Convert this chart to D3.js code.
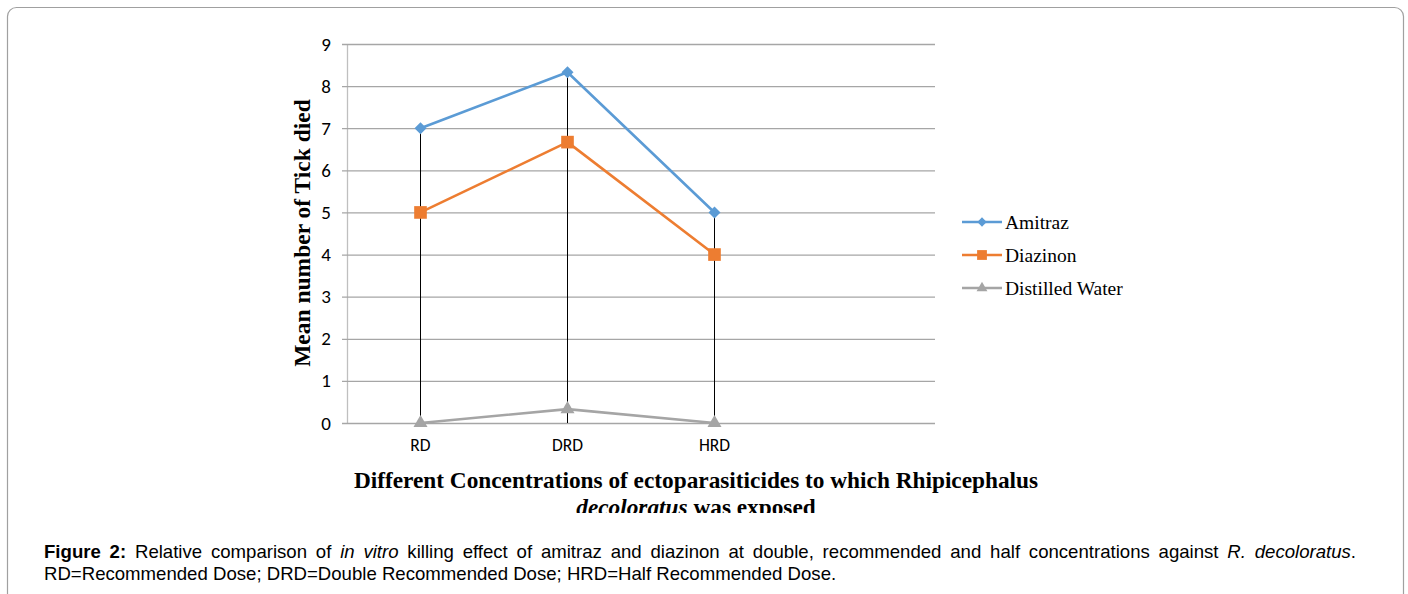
<!DOCTYPE html>
<html>
<head>
<meta charset="utf-8">
<script src="https://cdn.jsdelivr.net/npm/d3@7"></script>
<style>
  html, body { margin: 0; padding: 0; background: #fff; }
  svg { display: block; }
</style>
</head>
<body>
<svg id="fig" width="1408" height="594"></svg>
<script>
// Dose categories (a fourth, empty slot keeps the plot's spacing)
const categories = ["RD", "DRD", "HRD", ""];
const amitraz = [7, 8.33, 5];
const diazinon = [5, 6.67, 4];
const distilledWater = [0, 0.33, 0];
const yTicks = [0, 1, 2, 3, 4, 5, 6, 7, 8, 9];
const seriesNames = ["Amitraz", "Diazinon", "Distilled Water"];

const series = [
  { name: seriesNames[0], values: amitraz, color: "#5b9bd5", symbol: d3.symbolSquare, size: 72, rotate: 45 },
  { name: seriesNames[1], values: diazinon, color: "#ed7d31", symbol: d3.symbolSquare, size: 160, rotate: 0 },
  { name: seriesNames[2], values: distilledWater, color: "#a5a5a5", symbol: d3.symbolTriangle, size: 85, rotate: 0 }
];

const svg = d3.select("#fig");

// Outer figure frame
svg.append("rect")
  .attr("x", 7.5).attr("y", 7.5)
  .attr("width", 1396).attr("height", 620)
  .attr("rx", 9).attr("ry", 9)
  .attr("fill", "none").attr("stroke", "#a0a0a0").attr("stroke-width", 1.2);

const plot = { left: 347, right: 935, top: 44, bottom: 423 };

const x = d3.scaleBand().domain(categories).range([plot.left, plot.right]);
const y = d3.scaleLinear().domain([0, 9]).range([plot.bottom, plot.top]);
const cx = c => x(c) + x.bandwidth() / 2;

const tickFont = "Carlito, 'Open Sans', 'Liberation Sans', sans-serif";

// Horizontal gridlines with short tick stubs on the left
const yAxis = d3.axisLeft(y).tickValues(yTicks)
  .tickSize(-(plot.right - plot.left)).tickSizeOuter(0).tickPadding(16)
  .tickFormat(d3.format("d"));
const gy = svg.append("g").attr("transform", `translate(${plot.left},0)`).call(yAxis);
gy.select(".domain").attr("stroke", "#bfbfbf").attr("stroke-width", 1.3);
gy.selectAll(".tick line").attr("stroke", "#a6a6a6").attr("stroke-width", 1.3).attr("x1", -5);
gy.selectAll(".tick text")
  .attr("font-family", tickFont).attr("font-size", 19).attr("fill", "#000");

// Category labels under the axis
const xAxis = d3.axisBottom(x).tickSize(0).tickPadding(16);
const gx = svg.append("g").attr("transform", `translate(0,${plot.bottom})`).call(xAxis);
gx.select(".domain").remove();
gx.selectAll(".tick text")
  .attr("font-family", tickFont).attr("font-size", 17.5).attr("fill", "#000");

// Drop lines from the highest point of each category down to the axis
const dropData = categories.slice(0, 3).map((c, i) => ({ c, top: d3.max(series, s => s.values[i]) }));
svg.append("g").selectAll("line").data(dropData).join("line")
  .attr("x1", d => cx(d.c)).attr("x2", d => cx(d.c))
  .attr("y1", d => y(d.top)).attr("y2", y(0))
  .attr("stroke", "#000").attr("stroke-width", 1);

// Series lines and markers
const line = d3.line().x((d, i) => cx(categories[i])).y(d => y(d));
series.slice().reverse().forEach(s => {
  const g = svg.append("g");
  g.append("path").datum(s.values)
    .attr("d", line).attr("fill", "none")
    .attr("stroke", s.color).attr("stroke-width", 2.6).attr("stroke-linejoin", "round");
  g.selectAll("path.m").data(s.values).join("path").attr("class", "m")
    .attr("transform", (d, i) => `translate(${cx(categories[i])},${y(d)}) rotate(${s.rotate})`)
    .attr("d", d3.symbol().type(s.symbol).size(s.size))
    .attr("fill", s.color);
});

// Legend
const legend = svg.append("g").attr("transform", "translate(962,222)");
series.forEach((s, i) => {
  const row = legend.append("g").attr("transform", `translate(0,${i * 33})`);
  row.append("line").attr("x1", 0).attr("x2", 40).attr("y1", 0).attr("y2", 0)
    .attr("stroke", s.color).attr("stroke-width", 2.6);
  row.append("path").attr("transform", `translate(20,0) rotate(${s.rotate})`)
    .attr("d", d3.symbol().type(s.symbol).size(s.size * 0.6)).attr("fill", s.color);
  row.append("text").attr("x", 43).attr("y", 6.5)
    .attr("font-family", "'Liberation Serif', 'Times New Roman', serif")
    .attr("font-size", 19.5).attr("fill", "#000").text(s.name);
});

// Y axis title
svg.append("text")
  .attr("transform", "translate(310,233) rotate(-90)")
  .attr("text-anchor", "middle")
  .attr("font-family", "'Liberation Serif', 'Times New Roman', serif")
  .attr("font-weight", "bold").attr("font-size", 23.5).attr("fill", "#000")
  .text("Mean number of Tick died");

// X axis title, cut off at the bottom edge of the chart area
svg.append("clipPath").attr("id", "chartClip")
  .append("rect").attr("x", 0).attr("y", 0).attr("width", 1408).attr("height", 513);
const xt = svg.append("g").attr("clip-path", "url(#chartClip)")
  .append("text").attr("text-anchor", "middle")
  .attr("font-family", "'Liberation Serif', 'Times New Roman', serif")
  .attr("font-weight", "bold").attr("font-size", 23.3).attr("fill", "#000");
xt.append("tspan").attr("x", 696).attr("y", 488)
  .text("Different Concentrations of ectoparasiticides to which Rhipicephalus");
const l2 = xt.append("tspan").attr("x", 696).attr("y", 515);
l2.append("tspan").attr("font-style", "italic").text("decoloratus");
l2.append("tspan").text(" was exposed");

// Figure caption
const capFont = "'Liberation Sans', Arial, Helvetica, sans-serif";
const capSize = 18.6;
const cap1 = svg.append("text").attr("x", 44).attr("y", 558)
  .attr("font-family", capFont).attr("font-size", capSize).attr("fill", "#000");
cap1.append("tspan").attr("font-weight", "bold").text("Figure 2:");
cap1.append("tspan").text(" Relative comparison of ");
cap1.append("tspan").attr("font-style", "italic").text("in vitro");
cap1.append("tspan").text(" killing effect of amitraz and diazinon at double, recommended and half concentrations against ");
cap1.append("tspan").attr("font-style", "italic").text("R. decoloratus");
cap1.append("tspan").text(".");
// justify the first caption line across the text column
const targetW = 1356 - 44;
const natural = cap1.node().getComputedTextLength();
const spaces = (cap1.text().match(/ /g) || []).length;
if (spaces > 0) cap1.attr("word-spacing", Math.max(0, (targetW - natural) / spaces));

svg.append("text").attr("x", 44).attr("y", 580)
  .attr("font-family", capFont).attr("font-size", capSize).attr("fill", "#000")
  .text("RD=Recommended Dose; DRD=Double Recommended Dose; HRD=Half Recommended Dose.");
</script>
</body>
</html>
